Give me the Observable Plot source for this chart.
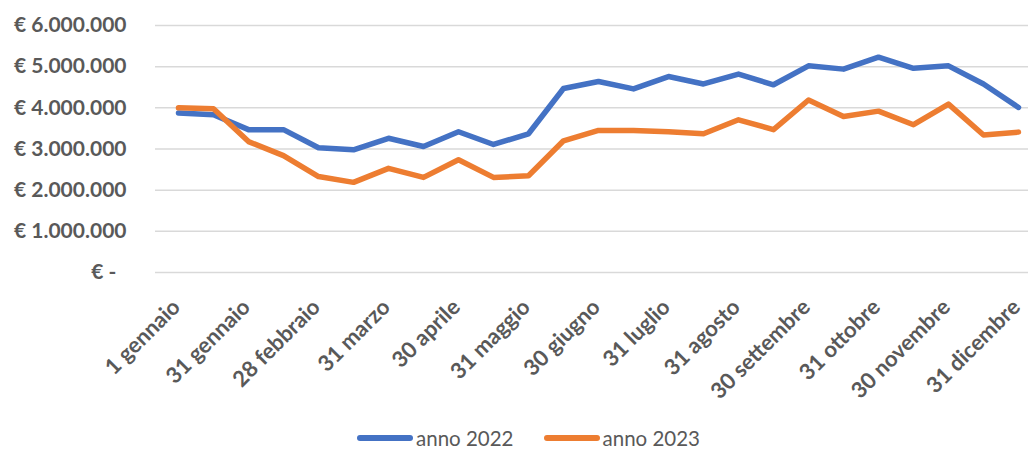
<!DOCTYPE html>
<html>
<head>
<meta charset="utf-8">
<script src="https://cdn.jsdelivr.net/npm/d3@7"></script>
<script src="https://cdn.jsdelivr.net/npm/@observablehq/plot@0.6"></script>
<style>
  html, body { margin: 0; padding: 0; background: #fff; overflow: hidden; }
  #legend { display: flex; gap: 0; font-family: Lato, "Open Sans", sans-serif; font-size: 20.5px; line-height: 24px; color: #595959; padding-left: 357px; height: 24px; align-items: center; margin-top: 14px; }
  .item { display: flex; align-items: center; margin-right: 30px; }
  .sw { width: 56px; height: 6px; border-radius: 3px; margin-right: 3px; }
</style>
</head>
<body>
<div id="chart"></div>
<div id="legend"></div>
<script>
const categories = [
  "1 gennaio", "15 gennaio", "31 gennaio", "15 febbraio", "28 febbraio", "15 marzo",
  "31 marzo", "15 aprile", "30 aprile", "15 maggio", "31 maggio", "15 giugno",
  "30 giugno", "15 luglio", "31 luglio", "15 agosto", "31 agosto", "15 settembre",
  "30 settembre", "15 ottobre", "31 ottobre", "15 novembre", "30 novembre", "15 dicembre",
  "31 dicembre"
];
const tickLabels = categories.filter((d, i) => i % 2 === 0);
const values2022 = [
  3876000, 3830000, 3470000, 3470000, 3030000, 2980000, 3260000, 3060000, 3420000, 3110000,
  3370000, 4470000, 4640000, 4460000, 4760000, 4580000, 4820000, 4560000, 5020000, 4940000,
  5230000, 4960000, 5020000, 4580000, 4010000
];
const values2023 = [
  4000000, 3980000, 3180000, 2840000, 2330000, 2190000, 2530000, 2310000, 2740000, 2310000,
  2350000, 3200000, 3450000, 3450000, 3420000, 3370000, 3710000, 3470000, 4190000, 3790000,
  3920000, 3590000, 4090000, 3340000, 3410000
];
const yTicks = [0, 1000000, 2000000, 3000000, 4000000, 5000000, 6000000];
const series = [
  {name: "anno 2022", color: "#4472C4", values: values2022},
  {name: "anno 2023", color: "#ED7D31", values: values2023}
];

const data = series.flatMap(s => s.values.map((v, i) => ({cat: categories[i], value: v, series: s.name})));

const fmt = v => v === 0 ? "€ -\u00a0\u00a0" : "€ " + d3.format(",")(v).replace(/,/g, ".");

const chart = Plot.plot({
  width: 1028,
  height: 412,
  marginLeft: 155,
  marginRight: 0,
  marginTop: 25,
  marginBottom: 140,
  style: {fontFamily: "Lato, 'Open Sans', sans-serif", background: "#fff"},
  x: {type: "point", domain: categories, range: [172, 1023], padding: 0},
  y: {domain: [0, 6000000]},
  color: {domain: series.map(s => s.name), range: series.map(s => s.color)},
  marks: [
    Plot.ruleY(yTicks, {stroke: "#d9d9d9", strokeWidth: 1.5}),
    Plot.axisY({ticks: yTicks, tickFormat: fmt, tickSize: 0, tickPadding: 29, fontSize: 21, fontWeight: "bold", fill: "#595959", label: null}),
    Plot.axisX({ticks: tickLabels, tickSize: 0, tickRotate: -45, tickPadding: 12, fontSize: 22, fontWeight: "bold", fill: "#595959", label: null, textAnchor: "end", dx: -2, dy: 19}),
    Plot.line(data, {x: "cat", y: "value", z: "series", stroke: "series", strokeWidth: 5.5, strokeLinejoin: "round", strokeLinecap: "round"})
  ]
});
document.getElementById("chart").appendChild(chart);

const legend = document.getElementById("legend");
for (const s of series) {
  const item = document.createElement("div");
  item.className = "item";
  const sw = document.createElement("div");
  sw.className = "sw";
  sw.style.background = s.color;
  const t = document.createElement("span");
  t.textContent = s.name;
  item.appendChild(sw);
  item.appendChild(t);
  legend.appendChild(item);
}
</script>
</body>
</html>
